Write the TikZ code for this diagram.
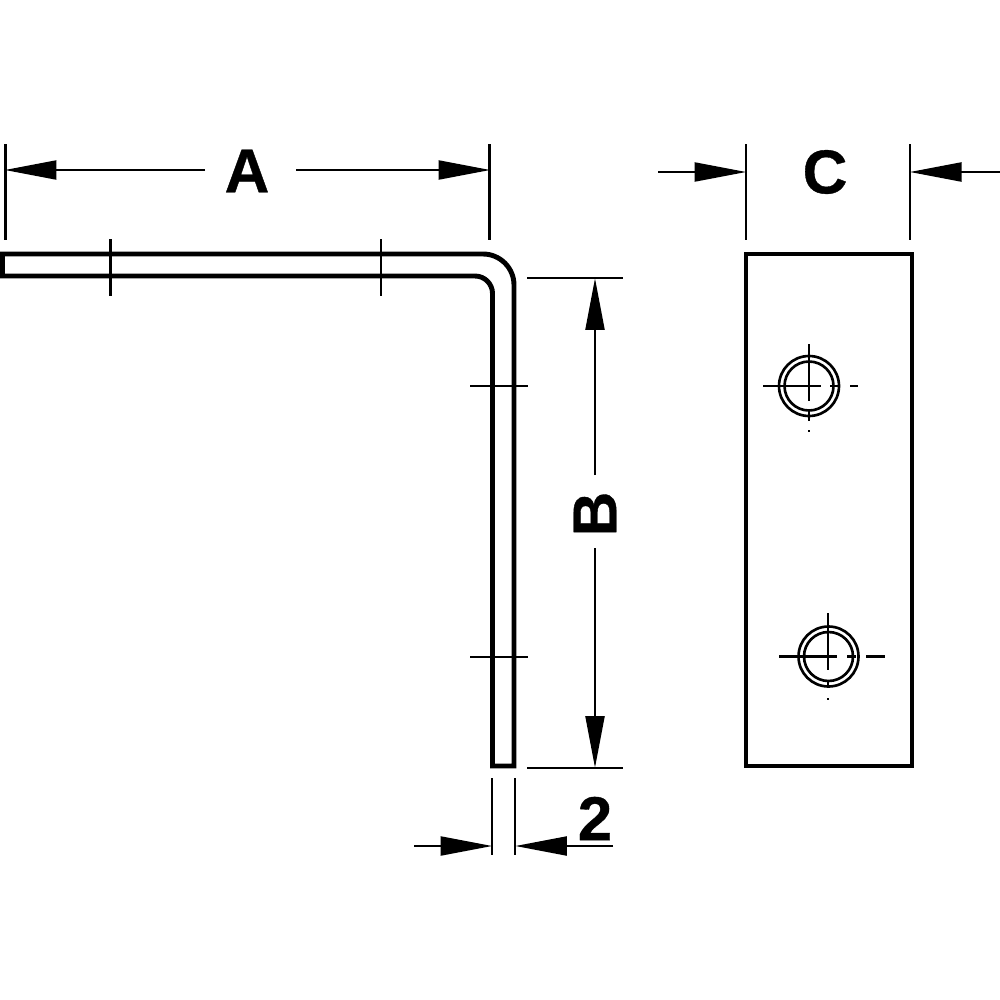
\documentclass[tikz,border=0pt]{standalone}
\usepackage{tikz}
\usepackage{fontspec}
\setmainfont{Liberation Sans}[BoldFeatures={FakeBold=0.6}]
\usetikzlibrary{arrows.meta}

\tikzset{
    part/.style={line width=1.4pt, line join=miter},
    thin line/.style={line width=0.65pt},
    hole/.style={line width=0.75pt},
    dimarrow/.style={line width=0.65pt, -{Triangle[length=14.7pt, width=5.4pt]}, shorten >=-0.2pt},
    dimlabel/.style={inner sep=0pt, font=\fontsize{17.6}{20}\bfseries\selectfont}
}

\begin{document}
\begin{tikzpicture}[x=0.01cm, y=-0.01cm]
    \useasboundingbox (0,0) rectangle (1000,1000);

    % bracket, side view
    \draw[part] (2.5,254) [rounded corners=0.31cm] -- (514,254) [sharp corners] -- (514,766)
        -- (492.5,766) [rounded corners=0.175cm] -- (492.5,276) [sharp corners] -- (2.5,276) -- cycle;
    % plate, front view
    \node (plate) at (829,510) [draw, part, minimum width=166*0.01cm, minimum height=512*0.01cm, inner sep=0pt] {};

    % centre marks on the bracket
    \draw[thin line] (110.5,239) -- (110.5,296);
    \draw[thin line] (381,239) -- (381,296);
    \draw[thin line] (470,386) -- (528,386);
    \draw[thin line] (470,657) -- (528,657);

    % holes
    \node (hole1) at (809,386) [draw, hole, circle, minimum size=60*0.01cm, inner sep=0pt] {};
    \node (hole1in) at (809,386) [draw, hole, circle, minimum size=49*0.01cm, inner sep=0pt] {};
    \node (hole2) at (828.5,656.5) [draw, hole, circle, minimum size=60*0.01cm, inner sep=0pt] {};
    \node (hole2in) at (828.5,656.5) [draw, hole, circle, minimum size=49*0.01cm, inner sep=0pt] {};

    \draw[thin line] (763,386) -- (821,386) (830,386) -- (840,386) (850,386) -- (858,386);
    \draw[thin line] (809,344) -- (809,401) (809,411) -- (809,421) (809,430) -- (809,432);
    \draw[thin line] (779,656.5) -- (837,656.5) (847,656.5) -- (856,656.5) (866,656.5) -- (885,656.5);
    \draw[thin line] (828,613) -- (828,670) (828,680) -- (828,688) (828,698) -- (828,700);

    % dimension A
    \coordinate (Aleft) at (5.5,170);
    \coordinate (Aright) at (489.5,170);
    \draw[thin line] (5.5,144) -- (5.5,240);
    \draw[thin line] (489.5,144) -- (489.5,240);
    \node (labelA) at (247,171) [dimlabel] {A};
    \coordinate (Alinel) at (205,170);
    \coordinate (Aliner) at (296,170);
    \draw[dimarrow] (Alinel) -- (Aleft);
    \draw[dimarrow] (Aliner) -- (Aright);

    % dimension B
    \coordinate (Btop) at (595,279);
    \coordinate (Bbot) at (595,767);
    \draw[thin line] (527,278) -- (623,278);
    \draw[thin line] (527,768) -- (623,768);
    \node (labelB) at (595,514) [dimlabel, rotate=90] {B};
    \coordinate (Bliner) at (595,475);
    \coordinate (Blinel) at (595,548);
    \draw[dimarrow] (Bliner) -- (Btop);
    \draw[dimarrow] (Blinel) -- (Bbot);

    % dimension C
    \coordinate (Cleft) at (745.5,172);
    \coordinate (Cright) at (910.5,172);
    \draw[thin line] (746,144) -- (746,240);
    \draw[thin line] (910,144) -- (910,240);
    \node (labelC) at (825,172) [dimlabel] {C};
    \coordinate (Clinel) at (658,172);
    \coordinate (Cliner) at (1000,172);
    \draw[dimarrow] (Clinel) -- (Cleft);
    \draw[dimarrow] (Cliner) -- (Cright);

    % dimension 2
    \coordinate (Tleft) at (491.5,846);
    \coordinate (Tright) at (516,846);
    \draw[thin line] (492,778) -- (492,855);
    \draw[thin line] (515,778) -- (515,855);
    \node (labelT) at (595,818.5) [dimlabel] {2};
    \coordinate (Tlinel) at (414,846);
    \coordinate (Tliner) at (613,846);
    \draw[dimarrow] (Tlinel) -- (Tleft);
    \draw[dimarrow] (Tliner) -- (Tright);
\end{tikzpicture}
\end{document}
